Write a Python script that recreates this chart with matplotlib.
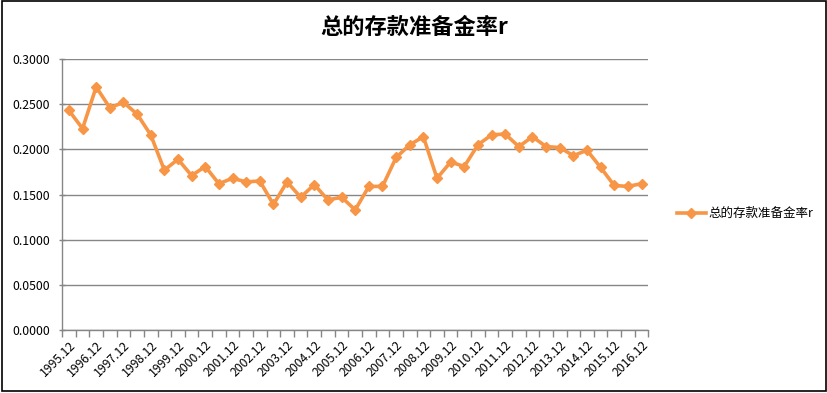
import numpy as np
import matplotlib
matplotlib.use("Agg")
import matplotlib.pyplot as plt

plt.rcParams['font.family'] = ['Noto Sans CJK SC', 'DejaVu Sans']

# semiannual observations, 1995.12 .. 2016.12
periods = []
for y in range(1995, 2017):
    if y > 1995:
        periods.append(f"{y}.06")
    periods.append(f"{y}.12")

r_values = [0.243, 0.223, 0.269, 0.246, 0.252, 0.239, 0.216, 0.177, 0.189, 0.171,
            0.181, 0.162, 0.168, 0.164, 0.165, 0.139, 0.164, 0.147, 0.161, 0.144,
            0.147, 0.133, 0.159, 0.159, 0.191, 0.205, 0.214, 0.168, 0.186, 0.181,
            0.205, 0.216, 0.217, 0.203, 0.214, 0.203, 0.202, 0.193, 0.199, 0.180,
            0.160, 0.159, 0.162]

title = "总的存款准备金率r"
series_name = "总的存款准备金率r"
y_ticks = [0.0, 0.05, 0.10, 0.15, 0.20, 0.25, 0.30]

orange = "#F79646"
grey = "#868686"

fig = plt.figure(figsize=(8.28, 3.93), dpi=100)
ax = fig.add_axes([0.075, 0.160, 0.708, 0.690])

x = np.arange(len(r_values))
ax.plot(x, r_values, color=orange, lw=2.6, marker="D", markersize=5.5,
        label=series_name, solid_joinstyle="round")

ax.set_xlim(-0.5, len(r_values) - 0.5)
ax.set_ylim(0, 0.3)
ax.set_yticks(y_ticks)
ax.set_yticklabels([f"{v:.4f}" for v in y_ticks], fontsize=8.8)
ax.yaxis.grid(True, color=grey, lw=1)
ax.set_axisbelow(True)

ax.set_xticks(x[::2])
ax.set_xticklabels(periods[::2], rotation=45, ha="right", rotation_mode="anchor",
                   fontsize=8.8)
ax.set_xticks(np.arange(-0.5, len(r_values)), minor=True)
ax.tick_params(axis="x", which="major", length=0, pad=6)
ax.tick_params(axis="x", which="minor", length=5, color=grey, width=1)
ax.tick_params(axis="y", length=5, color=grey, width=1, direction="inout", pad=6)

for s in ["top", "right"]:
    ax.spines[s].set_visible(False)
for s in ["left", "bottom"]:
    ax.spines[s].set_color(grey)
    ax.spines[s].set_linewidth(1)

fig.text(0.5, 0.93, title, ha="center", va="center", fontsize=16, fontweight="bold")

ax.legend(loc="center left", bbox_to_anchor=(1.04, 0.43), frameon=False,
          fontsize=9, handlelength=2.3, handletextpad=0.2, borderaxespad=0)

fig.add_artist(plt.Rectangle((0.002, 0.005), 0.995, 0.992, transform=fig.transFigure,
                             fill=False, edgecolor="black", lw=1.2))

fig.savefig("out.png", dpi=100)
